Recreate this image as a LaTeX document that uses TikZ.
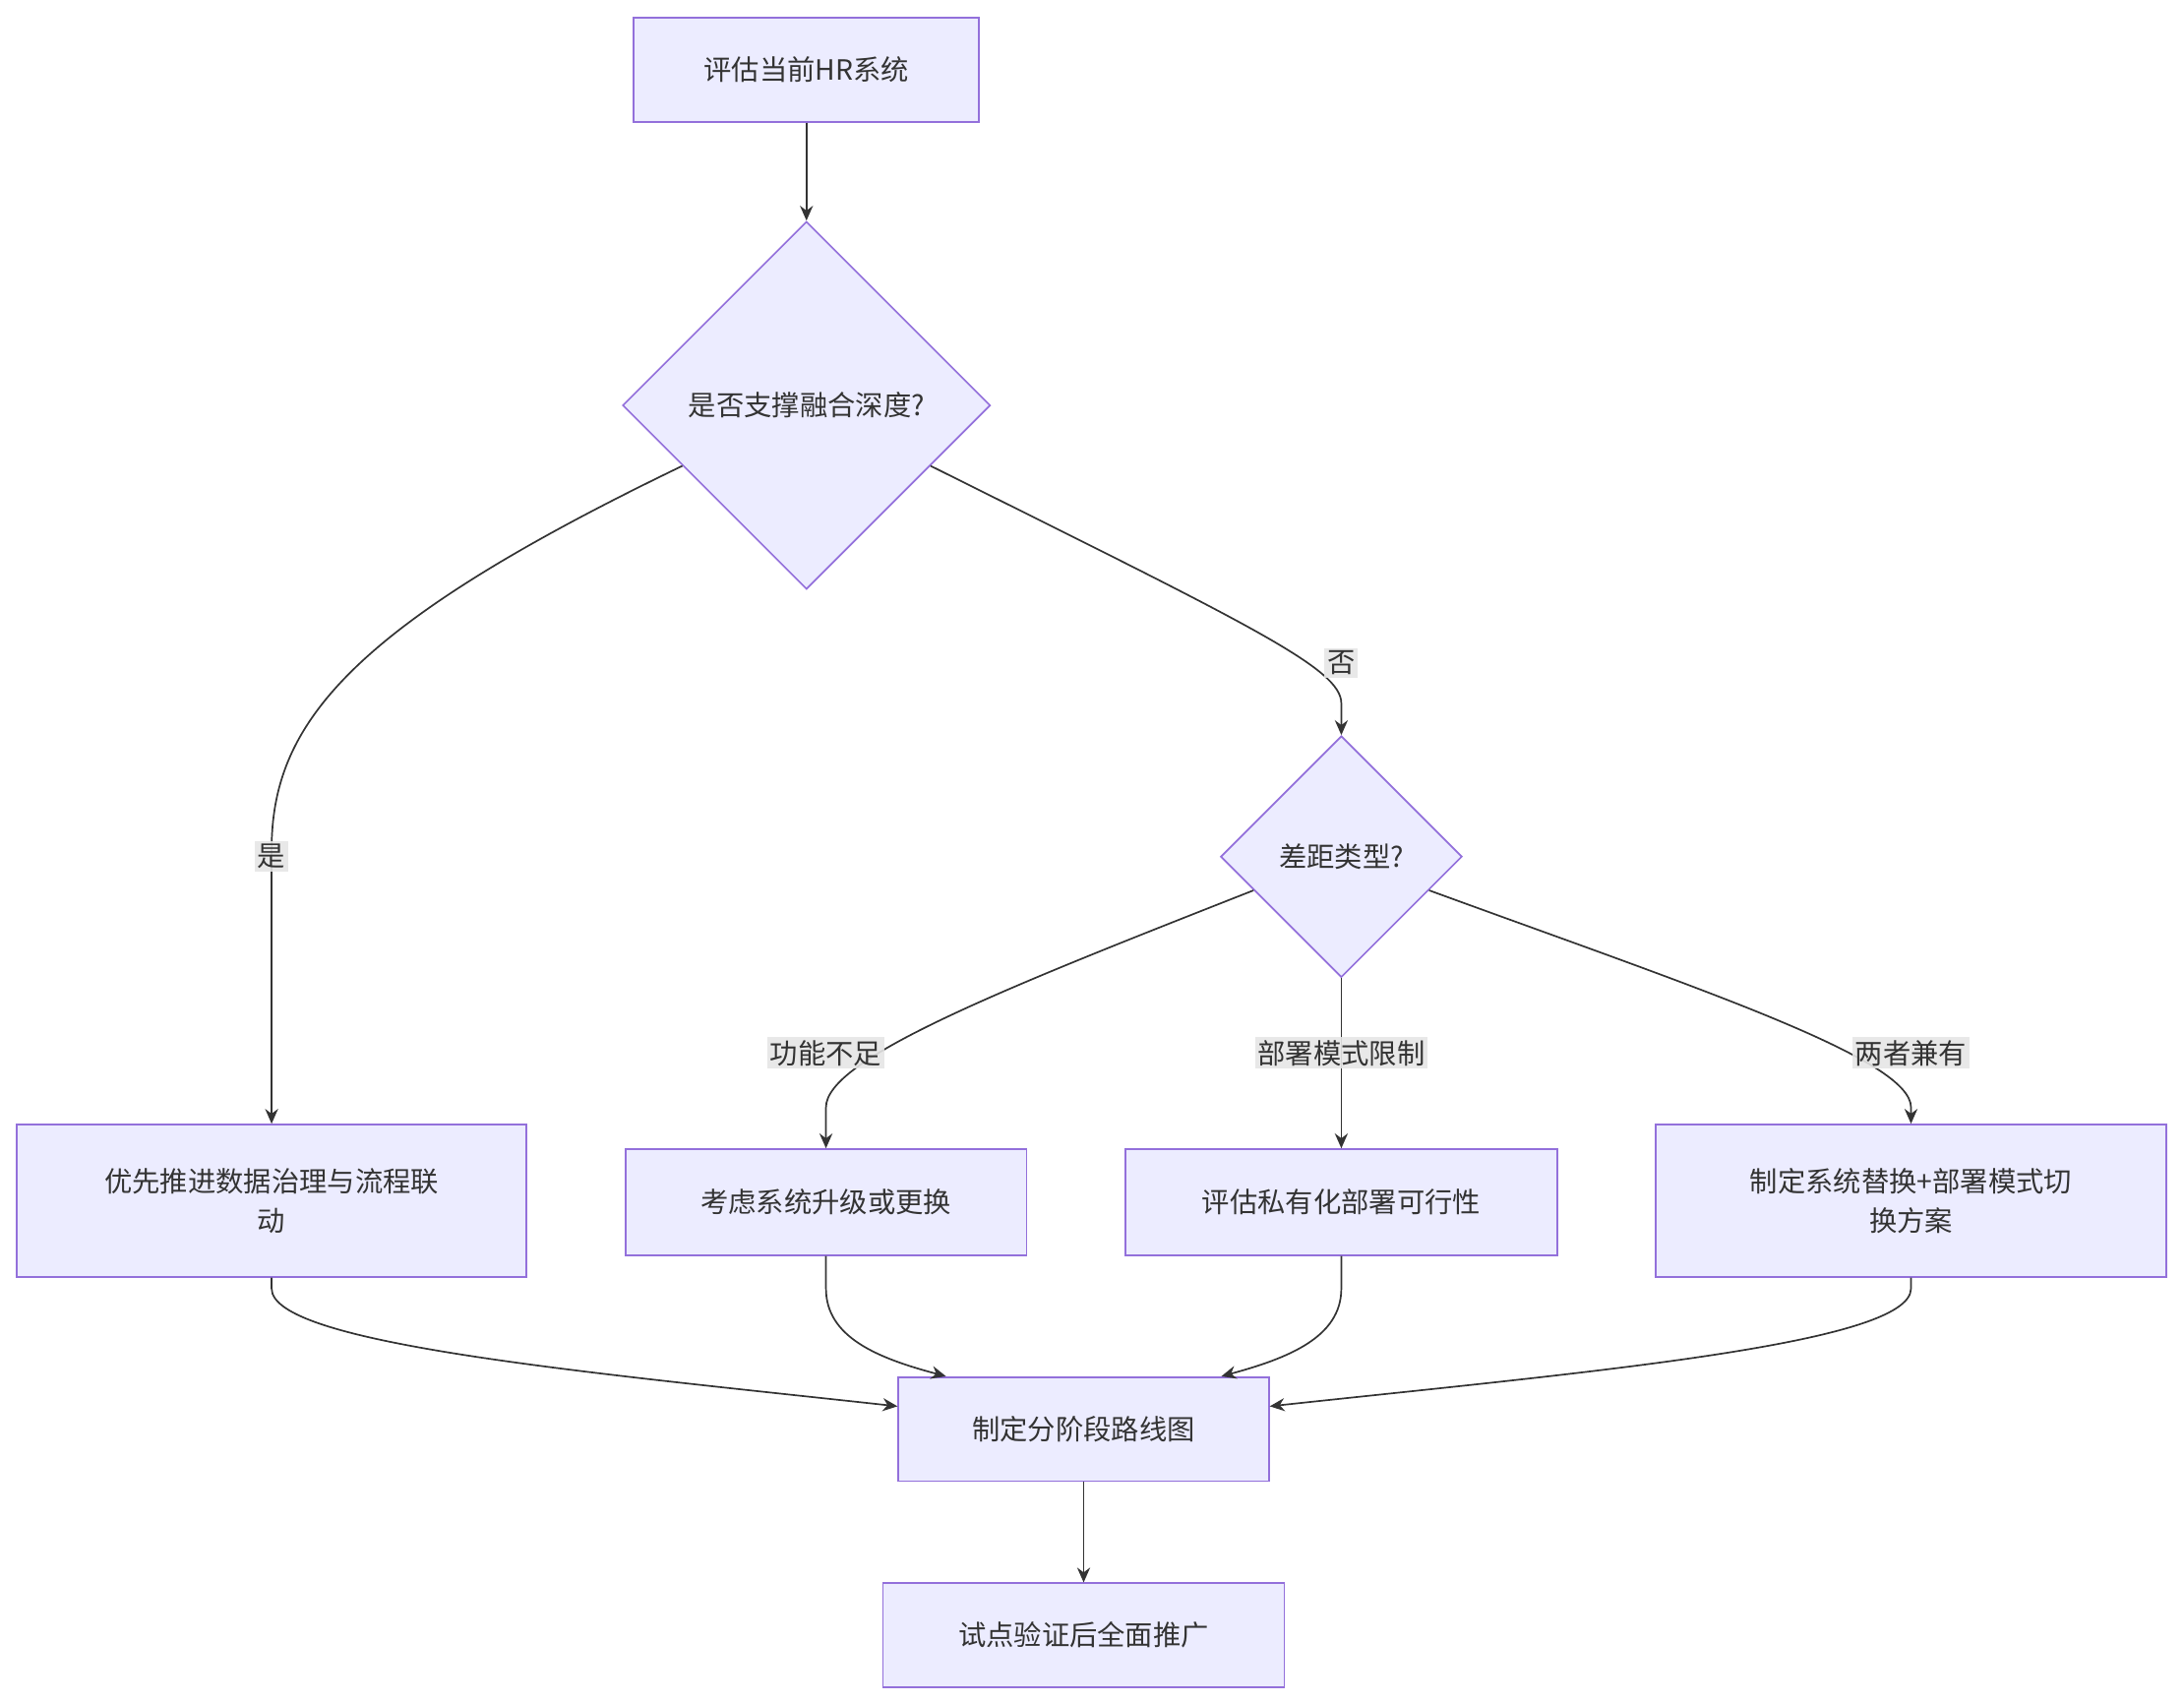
\documentclass[tikz,border=0pt]{standalone}
\usepackage{fontspec}
\setmainfont{Noto Sans CJK SC}
\usetikzlibrary{shapes.geometric,arrows.meta}
\definecolor{nfill}{HTML}{ECECFF}
\definecolor{ndraw}{HTML}{9370DB}
\definecolor{eline}{HTML}{333333}
\tikzset{
 box/.style={draw=ndraw,fill=nfill,line width=0.9pt,inner sep=0pt,align=center,font=\fontsize{15}{21}\selectfont,text=eline},
 dia/.style={box,diamond,inner sep=0pt},
 conn/.style={draw=eline,line width=0.9pt,-{Stealth[length=8pt,width=7pt]}},
 lbl/.style={fill=black!10,fill opacity=0.9,text opacity=1,inner sep=1.5pt,font=\fontsize{15}{18}\selectfont,text=eline}
}
\begin{document}
\begin{tikzpicture}[x=0.75pt,y=-0.75pt]
\useasboundingbox (0,0) rectangle (1568,1222);
\node[box,minimum width=186pt,minimum height=56pt] (A) at (579,50) {评估当前HR系统};
\node[dia,minimum width=198pt,minimum height=198pt] (B) at (579,291) {是否支撑融合深度?};
\node[dia,minimum width=130pt,minimum height=130pt] (C) at (963,615) {差距类型?};
\node[box,minimum width=274.5pt,minimum height=82pt] (D) at (195,862) {优先推进数据治理与流程联\\动};
\node[box,minimum width=216pt,minimum height=57pt] (E) at (593,863) {考虑系统升级或更换};
\node[box,minimum width=232.5pt,minimum height=57pt] (F) at (963,863) {评估私有化部署可行性};
\node[box,minimum width=275pt,minimum height=82pt] (G) at (1372,862) {制定系统替换+部署模式切\\换方案};
\node[box,minimum width=199.5pt,minimum height=56pt] (H) at (778,1026) {制定分阶段路线图};
\node[box,minimum width=216pt,minimum height=56pt] (I) at (778,1174) {试点验证后全面推广};
\draw[conn] (A) -- (B);
\draw[conn] (B.206) .. controls (250,450) and (195,520) .. (195,610) -- (D.north);
\draw[conn] (B.-26) .. controls (900,450) and (963,480) .. (963,505) -- (C.north);
\draw[conn] (C.201.6) .. controls (720,710) and (593,760) .. (593,795) -- (E.north);
\draw[conn] (C) -- (F);
\draw[conn] (C.-21.6) .. controls (1220,710) and (1372,760) .. (1372,795) -- (G.north);
\draw[conn] (D.south) -- (195,925) .. controls (195,965) and (420,985) .. (H.173);
\draw[conn] (E.south) -- (593,925) .. controls (593,960) and (630,975) .. (H.159);
\draw[conn] (F.south) -- (963,925) .. controls (963,960) and (925,975) .. (H.21);
\draw[conn] (G.south) -- (1372,925) .. controls (1372,965) and (1140,985) .. (H.7);
\draw[conn] (H) -- (I);
\node[lbl] (l1) at (195,615) {是};
\node[lbl] (l2) at (963,476) {否};
\node[lbl] (l3) at (593,756) {功能不足};
\node[lbl] (l4) at (963,756) {部署模式限制};
\node[lbl] (l5) at (1372,756) {两者兼有};
\end{tikzpicture}
\end{document}
